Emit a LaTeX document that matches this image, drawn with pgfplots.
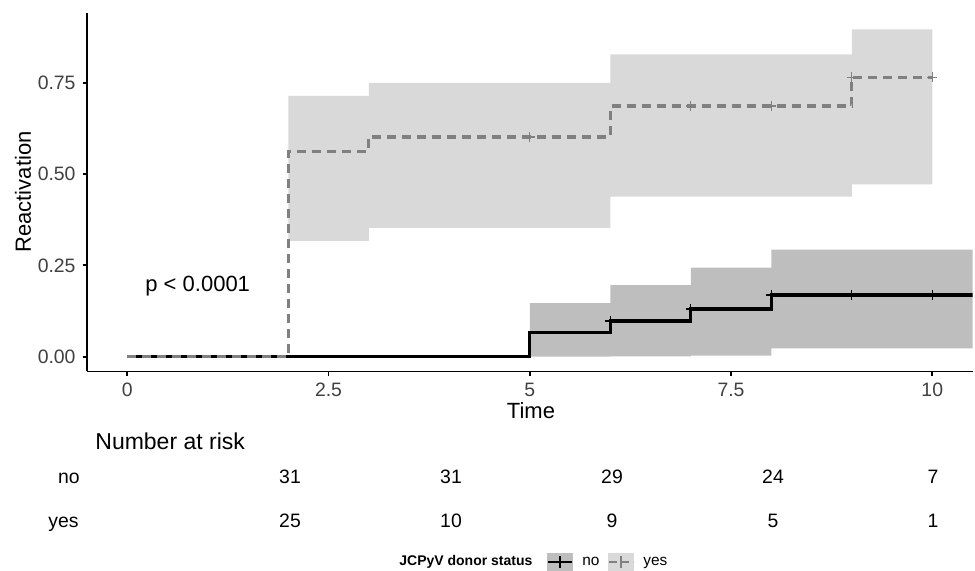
\documentclass[border=0pt]{standalone}
\usepackage{pgfplots}
\pgfplotsset{compat=1.18}
\usepackage{fontspec}
\setmainfont{Liberation Sans}

\definecolor{cilight}{HTML}{D9D9D9}
\definecolor{cidark}{HTML}{BEBEBE}
\definecolor{yesline}{HTML}{808080}
\definecolor{ticktext}{HTML}{404040}

\newcommand{\fs}[1]{\fontsize{#1}{#1}\selectfont}

\begin{document}
\begin{tikzpicture}
\useasboundingbox (0pt,0pt) rectangle (487.5pt,-285.5pt);
\begin{axis}[
  at={(43.5pt,-185.75pt)}, anchor=south west,
  scale only axis, width=442.75pt, height=179.25pt,
  xmin=-0.5, xmax=10.5, ymin=-0.0405, ymax=0.941,
  axis x line*=bottom, axis y line*=left,
  axis line style={line width=0.9pt},
  xtick={0,2.5,5,7.5,10}, xticklabels={0,2.5,5,7.5,10},
  ytick={0,0.25,0.5,0.75}, yticklabels={0.00,0.25,0.50,0.75},
  tick align=outside, major tick length=2.2pt,
  tick style={line width=0.9pt, black},
  tick label style={font=\fs{9.7}, text=ticktext},
  /pgf/number format/assume math mode=true,
]
  % confidence bands
  \addplot[fill=cilight, draw=none] coordinates {
    (2,0.317) (2,0.714) (3,0.714) (3,0.750) (6,0.750) (6,0.828)
    (9,0.828) (9,0.896) (10,0.896) (10,0.472) (9,0.472) (9,0.438)
    (6,0.438) (6,0.353) (3,0.353) (3,0.317)
  };
  \addplot[fill=cidark, draw=none] coordinates {
    (5,0.000) (5,0.147) (6,0.147) (6,0.196) (7,0.196) (7,0.244)
    (8,0.244) (8,0.293) (10.5,0.293) (10.5,0.023) (8,0.023) (8,0.003)
    (7,0.003) (7,0.001) (6,0.001) (6,0.000)
  };

  % no: solid black step
  \addplot[const plot mark left, black, line width=1.7pt] coordinates {
    (0,0) (5,0.067) (6,0.098) (7,0.131) (8,0.169) (10.5,0.169)
  };
  % yes: dashed gray step
  \addplot[const plot mark left, yesline, line width=1.7pt,
    dash pattern=on 4.5pt off 3pt] coordinates {
    (0,0) (2,0.561) (3,0.602) (6,0.686) (9,0.765) (10,0.765)
  };

  % censoring marks
  \addplot[only marks, mark=+, mark size=2.4pt, black, line width=0.7pt] coordinates {
    (6,0.098) (7,0.131) (8,0.169) (9,0.169) (10,0.169)
  };
  \addplot[only marks, mark=+, mark size=2.4pt, yesline, line width=0.7pt] coordinates {
    (5,0.602) (7,0.686) (8,0.686) (9,0.765) (10,0.765)
  };
\end{axis}

\begin{scope}[x=0.5pt, y=-0.5pt]
  \node[rotate=90, font=\fs{11}] at (23,192) {Reactivation};
  \node[font=\fs{11}] at (531,411) {Time};
  \node[anchor=base west, inner sep=0pt, font=\fs{11}] at (145,292) {p < 0.0001};

  \node[anchor=base west, inner sep=0pt, font=\fs{11.5}] at (95,450) {Number at risk};
  \node[anchor=base east, inner sep=0pt, font=\fs{9.7}] at (80,484) {no};
  \node[anchor=base east, inner sep=0pt, font=\fs{9.7}] at (79,528) {yes};
  \foreach \xx/\n in {290/31, 451/31, 612/29, 773/24, 933/7}
    \node[anchor=base, inner sep=0pt, font=\fs{9.7}] at (\xx,484) {\n};
  \foreach \xx/\n in {290/25, 451/10, 612/9, 773/5, 933/1}
    \node[anchor=base, inner sep=0pt, font=\fs{9.7}] at (\xx,528) {\n};

  % legend
  \node[anchor=base west, inner sep=0pt, font=\fs{7}\bfseries] at (399,566) {JCPyV donor status};
  \fill[cidark] (547,553) rectangle (573,571);
  \draw[black, line width=1.4pt] (548,562) -- (572,562);
  \draw[black, line width=0.7pt] (560,556) -- (560,568);
  \node[anchor=base west, inner sep=0pt, font=\fs{7.7}] at (582,566) {no};
  \fill[cilight] (608,553) rectangle (634,571);
  \draw[yesline, line width=1.4pt, dash pattern=on 4pt off 2pt] (609,562) -- (633,562);
  \draw[yesline, line width=0.7pt] (621,556) -- (621,568);
  \node[anchor=base west, inner sep=0pt, font=\fs{7.7}] at (643,566) {yes};
\end{scope}
\end{tikzpicture}
\end{document}
